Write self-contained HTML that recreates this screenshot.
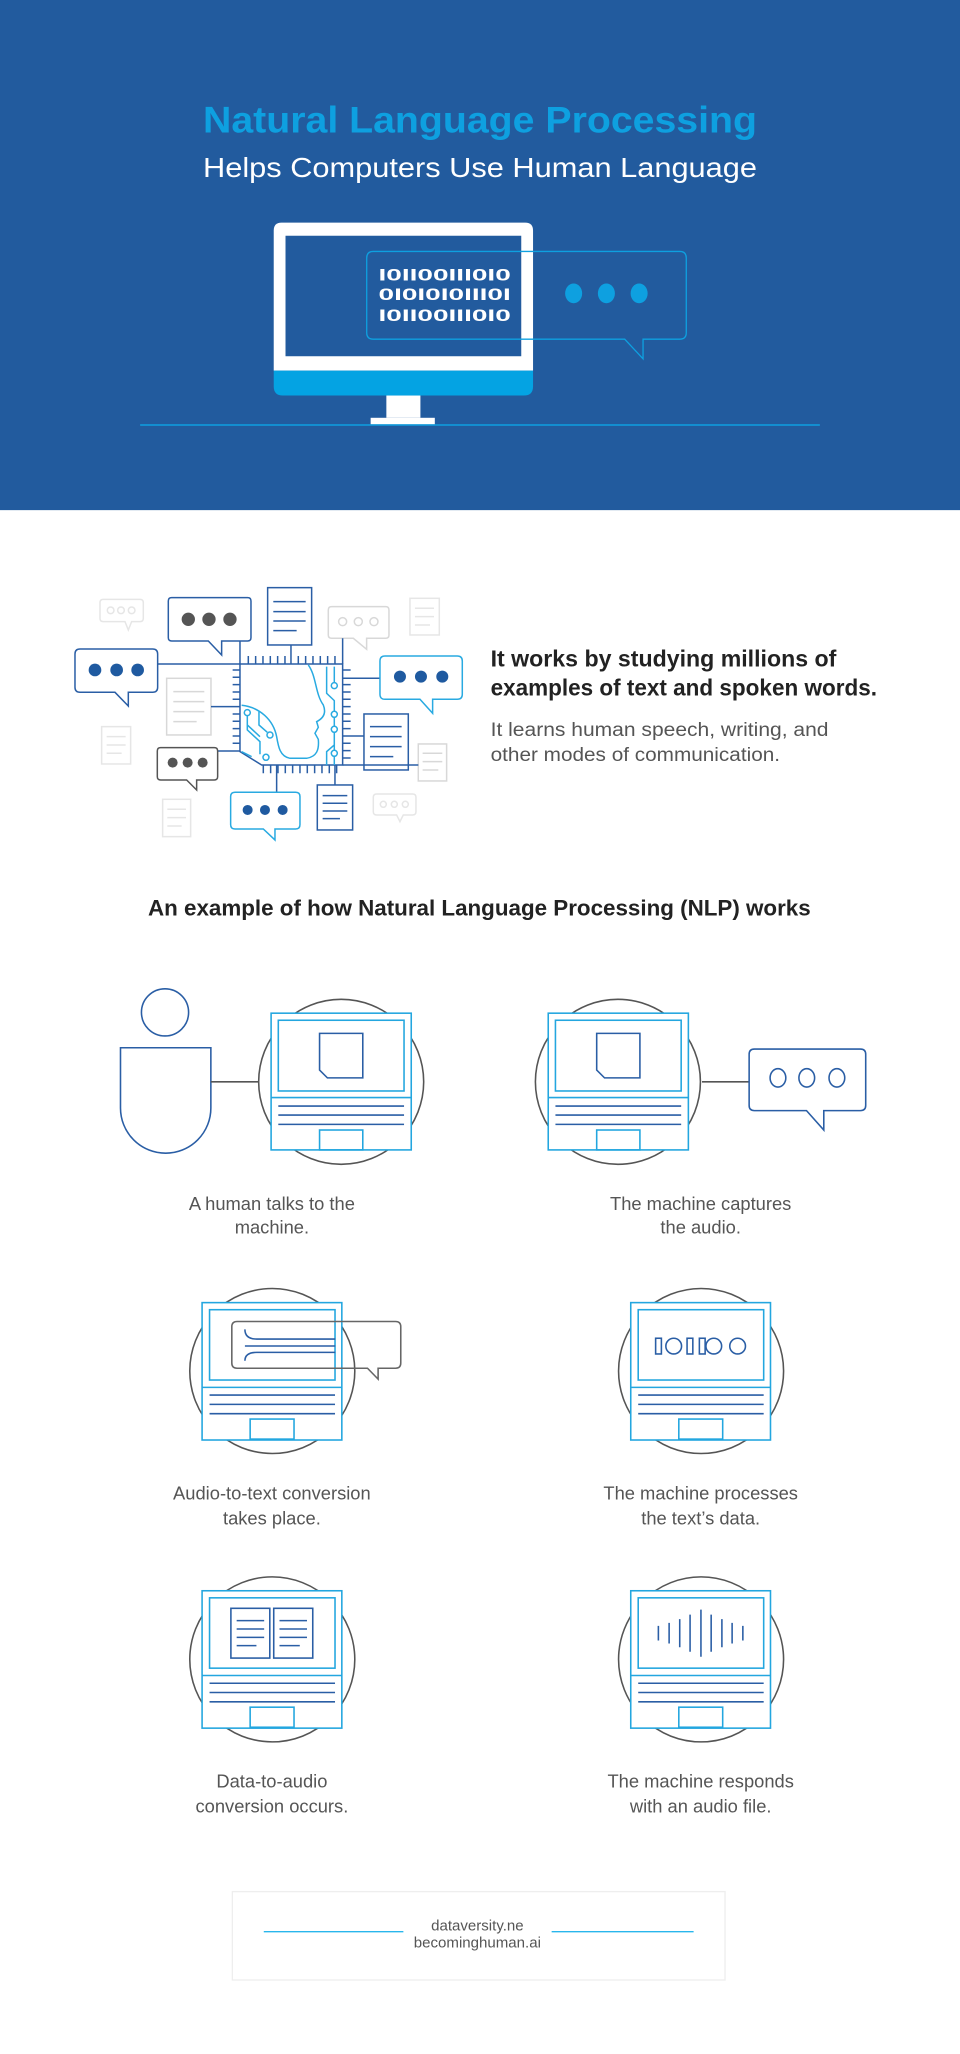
<!DOCTYPE html>
<html><head><meta charset="utf-8"><style>
html,body{margin:0;padding:0;background:#fff;}
svg{display:block;}
text{font-family:"Liberation Sans",sans-serif;}
</style></head><body>
<svg width="960" height="2054" viewBox="0 0 733 1568.3" preserveAspectRatio="none" xmlns="http://www.w3.org/2000/svg">
<rect x="0" y="0" width="733" height="389.5" fill="#225b9e"/>
<text x="155" y="101" font-size="28" font-weight="bold" fill="#0ea0e0" textLength="423" lengthAdjust="spacingAndGlyphs">Natural Language Processing</text>
<text x="155" y="135" font-size="21" fill="#fff" textLength="423" lengthAdjust="spacingAndGlyphs">Helps Computers Use Human Language</text>
<!-- monitor -->
<path d="M215,170 H401 Q407,170 407,176 V283 H209 V176 Q209,170 215,170 Z" fill="#fff"/>
<rect x="218" y="180" width="180" height="92" fill="#225b9e"/>
<path d="M209,283 H407 V295 Q407,302 400,302 H216 Q209,302 209,295 Z" fill="#04a3e3"/>
<rect x="295" y="302" width="26" height="17" fill="#fff"/>
<rect x="283" y="319" width="49" height="5" fill="#fff"/>
<line x1="107" y1="324.5" x2="626" y2="324.5" stroke="#0ea0e0" stroke-width="1.2"/>
<path d="M285,192 H519 Q524,192 524,197 V254 Q524,259 519,259 H491 V274 L477,259 H285 Q280,259 280,254 V197 Q280,192 285,192 Z" fill="none" stroke="#0ea0e0" stroke-width="1"/>
<g font-size="13" font-weight="bold" fill="#fff">
<text x="289" y="214" textLength="101" lengthAdjust="spacingAndGlyphs">I0II00III0I0</text>
<text x="289" y="229" textLength="101" lengthAdjust="spacingAndGlyphs">0I0I0I0III0I</text>
<text x="289" y="245" textLength="101" lengthAdjust="spacingAndGlyphs">I0II00III0I0</text>
</g>
<g fill="#0ea0e0"><ellipse cx="438" cy="224" rx="6.5" ry="7.5"/><ellipse cx="463" cy="224" rx="6.5" ry="7.5"/><ellipse cx="488" cy="224" rx="6.5" ry="7.5"/></g>

<!-- illustration -->
<g transform="translate(45.8,435.2) scale(0.2545)" fill="none" stroke-width="4.5">
 <!-- faint -->
 <g stroke="#e6e6e6">
  <path d="M130,88 H240 Q250,88 250,98 V145 Q250,155 240,155 H215 L205,180 L195,155 H130 Q120,155 120,145 V98 Q120,88 130,88 Z"/>
  <circle cx="152" cy="121" r="10"/><circle cx="183" cy="121" r="10"/><circle cx="215" cy="121" r="10"/>
  <rect x="1050" y="85" width="88" height="110"/>
  <path d="M1065,115H1122M1065,140H1122M1065,165H1110"/>
  <rect x="125" y="470" width="87" height="112"/>
  <path d="M140,500H197M140,525H197M140,550H185"/>
  <rect x="308" y="688" width="84" height="112"/>
  <path d="M322,718H378M322,743H378M322,768H365"/>
  <path d="M950,672 H1058 Q1068,672 1068,682 V725 Q1068,735 1058,735 H1030 L1020,755 L1010,735 H950 Q940,735 940,725 V682 Q940,672 950,672 Z"/>
  <circle cx="970" cy="703" r="9"/><circle cx="1003" cy="703" r="9"/><circle cx="1036" cy="703" r="9"/>
 </g>
 <g stroke="#d8d8d8">
  <path d="M815,110 H977 Q987,110 987,120 V195 Q987,205 977,205 H920 V238 L880,205 H815 Q805,205 805,195 V120 Q805,110 815,110 Z"/>
  <circle cx="848" cy="155" r="12"/><circle cx="895" cy="155" r="12"/><circle cx="942" cy="155" r="12"/>
  <rect x="320" y="325" width="133" height="170"/>
  <path d="M340,365H433M340,395H433M340,425H433M340,455H410"/>
  <rect x="1075" y="522" width="85" height="111"/>
  <path d="M1088,550H1147M1088,575H1147M1088,600H1135"/>
 </g>
 <!-- connectors -->
 <g stroke="#2a5ea5">
  <path d="M293,282H540M540,213V282M693,225V282M848,205V282M848,325H960M453,410H540M848,498H912M848,585H1075M473,543H540M650,585V667M825,585V645"/>
  <path d="M540,282 H848 V585 H605 L540,545 Z"/>
  <path d="M565,258V282M587,258V282M609,258V282M631,258V282M653,258V282M675,258V282M715,258V282M737,258V282M759,258V282M781,258V282M803,258V282M825,258V282"/>
  <path d="M610,585V610M632,585V610M654,585V610M676,585V610M698,585V610M720,585V610M742,585V610M764,585V610M786,585V610M808,585V610M830,585V610"/>
  <path d="M518,300H540M518,322H540M518,344H540M518,366H540M518,388H540M518,432H540M518,454H540M518,476H540M518,498H540M518,520H540"/>
  <path d="M848,300H872M848,344H872M848,366H872M848,388H872M848,410H872M848,432H872M848,454H872M848,476H872M848,520H872M848,542H872M848,564H872"/>
  <path d="M335,83 H563 Q573,83 573,93 V203 Q573,213 563,213 H485 V255 L445,213 H335 Q325,213 325,203 V93 Q325,83 335,83 Z"/>
  <path d="M60,237 H278 Q293,237 293,252 V352 Q293,367 278,367 H205 V408 L165,367 H60 Q45,367 45,352 V252 Q45,237 60,237 Z"/>
  <rect x="623" y="53" width="132" height="172"/>
  <path d="M640,95H737M640,125H737M640,153H737M640,182H710"/>
  <rect x="912" y="432" width="133" height="168"/>
  <path d="M930,470H1025M930,500H1025M930,530H1025M930,560H1000"/>
  <rect x="772" y="645" width="106" height="135"/>
  <path d="M788,677H862M788,700H862M788,723H862M788,746H840"/>
 </g>
 <path stroke="#555" d="M302,533 H463 Q473,533 473,543 V620 Q473,630 463,630 H410 V660 L380,630 H302 Q292,630 292,620 V543 Q292,533 302,533 Z"/>
 <g stroke="#29aae1">
  <path d="M975,258 H1192 Q1207,258 1207,273 V373 Q1207,388 1192,388 H1118 V430 L1080,388 H975 Q960,388 960,373 V273 Q960,258 975,258 Z"/>
  <path d="M525,667 H707 Q720,667 720,680 V764 Q720,777 707,777 H645 V810 L610,777 H525 Q512,777 512,764 V680 Q512,667 525,667 Z"/>
  <path d="M745,285 C770,320 765,370 790,405 C800,430 790,445 770,455 L775,472 L765,490 L775,508 C778,540 770,560 740,565 L690,565 C660,560 655,530 650,500 C640,450 600,412 545,406"/>
  <path d="M800,290V370L823,392V424M823,290V338M823,442V469M823,487V541M823,559V585M800,585V545L823,525"/>
  <path d="M562,437V480L600,515V553M562,465L600,500M597,425V465L622,487M545,545L575,560"/>
  <circle cx="823" cy="347" r="9"/><circle cx="823" cy="433" r="9"/><circle cx="823" cy="478" r="9"/><circle cx="823" cy="550" r="9"/>
  <circle cx="562" cy="428" r="9"/><circle cx="630" cy="495" r="9"/><circle cx="618" cy="562" r="9"/>
 </g>
 <g fill="#555"><circle cx="385" cy="148" r="20"/><circle cx="447" cy="148" r="20"/><circle cx="510" cy="148" r="20"/>
  <circle cx="338" cy="578" r="15"/><circle cx="383" cy="578" r="15"/><circle cx="428" cy="578" r="15"/></g>
 <g fill="#1f5aa0"><circle cx="105" cy="300" r="19"/><circle cx="170" cy="300" r="19"/><circle cx="233" cy="300" r="19"/>
  <circle cx="1020" cy="320" r="18"/><circle cx="1083" cy="320" r="18"/><circle cx="1147" cy="320" r="18"/>
  <circle cx="563" cy="720" r="15"/><circle cx="615" cy="720" r="15"/><circle cx="668" cy="720" r="15"/></g>
</g>

<text x="374.6" y="509" font-size="17.5" font-weight="bold" fill="#222" textLength="264" lengthAdjust="spacingAndGlyphs">It works by studying millions of</text>
<text x="374.6" y="531" font-size="17.5" font-weight="bold" fill="#222" textLength="295" lengthAdjust="spacingAndGlyphs">examples of text and spoken words.</text>
<text x="374.6" y="562" font-size="14.5" fill="#555" textLength="258" lengthAdjust="spacingAndGlyphs">It learns human speech, writing, and</text>
<text x="374.6" y="581" font-size="14.5" fill="#555" textLength="221" lengthAdjust="spacingAndGlyphs">other modes of communication.</text>

<text x="113" y="699" font-size="17" font-weight="bold" fill="#222" textLength="506" lengthAdjust="spacingAndGlyphs">An example of how Natural Language Processing (NLP) works</text>

<!-- step icons -->
<g fill="none" stroke-width="1.2">
 <!-- step1 -->
 <circle cx="126" cy="773" r="18" stroke="#2a5ea5"/>
 <path d="M92,800 H161 V846 A34.5,34.5 0 0 1 92,846 Z" stroke="#2a5ea5"/>
 <line x1="161" y1="826" x2="197" y2="826" stroke="#555"/>
 <circle cx="260.5" cy="826" r="63" stroke="#555"/>
 <g id="comp">
  <rect x="207" y="773.6" width="107" height="104.4" fill="#fff" stroke="#23a6df"/>
  <rect x="212.5" y="779" width="96" height="54" stroke="#23a6df"/>
  <line x1="207" y1="838" x2="314" y2="838" stroke="#23a6df"/>
  <path d="M212.5,844.5H308.5M212.5,851.4H308.5M212.5,858.5H308.5" stroke="#2a5ea5"/>
  <rect x="244" y="862.8" width="33" height="15.2" stroke="#23a6df"/>
 </g>
 <path d="M244,789 H277 V823 H250 L244,817 Z" stroke="#2a5ea5"/>
 <!-- step2 -->
 <circle cx="471.8" cy="826" r="63" stroke="#555"/>
 <line x1="536" y1="826" x2="572" y2="826" stroke="#555"/>
 <use href="#comp" transform="translate(211.6,0)"/>
 <path d="M455.6,789 H488.6 V823 H461.6 L455.6,817 Z" stroke="#2a5ea5"/>
 <path d="M576,801 H657 Q661,801 661,805 V844 Q661,848 657,848 H629 V862.8 L615.8,848 H576 Q572,848 572,844 V805 Q572,801 576,801 Z" stroke="#2a5ea5"/>
 <ellipse cx="594" cy="823" rx="6" ry="7" stroke="#2a5ea5"/><ellipse cx="616" cy="823" rx="6" ry="7" stroke="#2a5ea5"/><ellipse cx="639" cy="823" rx="6" ry="7" stroke="#2a5ea5"/>
 <!-- step3 -->
 <circle cx="207.9" cy="1046.8" r="63" stroke="#555"/>
 <g id="comp2">
  <rect x="154.3" y="994.6" width="106.7" height="104.9" fill="#fff" stroke="#23a6df"/>
  <rect x="160" y="1000" width="95.8" height="53.7" stroke="#23a6df"/>
  <line x1="154.3" y1="1059.3" x2="261" y2="1059.3" stroke="#23a6df"/>
  <path d="M160,1065.2H255.8M160,1072.3H255.8M160,1079.4H255.8" stroke="#2a5ea5"/>
  <rect x="191" y="1083.5" width="33.5" height="15.3" stroke="#23a6df"/>
 </g>
 <path d="M181,1009 H302 Q306,1009 306,1013 V1040.7 Q306,1044.7 302,1044.7 H288.7 V1053 L280.6,1044.7 H181 Q177,1044.7 177,1040.7 V1013 Q177,1009 181,1009 Z" stroke="#666"/>
 <path d="M187,1015 Q187,1022.4 196,1022.4 H256 M187,1027.7 H256 M187,1039 Q187,1032.6 196,1032.6 H256" stroke="#2a5ea5"/>
 <!-- step4 -->
 <circle cx="535.3" cy="1046.8" r="63" stroke="#555"/>
 <use href="#comp2" transform="translate(327.3,0)"/>
 <g stroke="#2a5ea5">
  <rect x="500.6" y="1021.8" width="4.4" height="12"/><circle cx="514.4" cy="1027.8" r="6"/>
  <rect x="524.6" y="1021.8" width="4.4" height="12"/><rect x="534" y="1021.8" width="4.4" height="12"/>
  <circle cx="545" cy="1027.8" r="6"/><circle cx="563.2" cy="1027.8" r="6"/>
 </g>
 <!-- step5 -->
 <circle cx="207.9" cy="1267" r="63" stroke="#555"/>
 <use href="#comp2" transform="translate(0,220)"/>
 <g stroke="#2a5ea5">
  <rect x="176.3" y="1228" width="29.7" height="38"/><rect x="209" y="1228" width="29.8" height="38"/>
  <path d="M180.7,1237.4H201.7M180.7,1243.8H201.7M180.7,1250.2H201.7M180.7,1256.5H195.8M213.4,1237.4H234.4M213.4,1243.8H234.4M213.4,1250.2H234.4M213.4,1256.5H228.9"/>
 </g>
 <!-- step6 -->
 <circle cx="535.3" cy="1267" r="63" stroke="#555"/>
 <use href="#comp2" transform="translate(327.3,220)"/>
 <path stroke="#2a5ea5" d="M502.7,1241.4V1252.6M510.9,1239.1V1254.9M519,1236.3V1257.7M526.9,1232.8V1261.2M535.2,1229V1265M543,1232.8V1261.2M551.2,1236.3V1257.7M559,1239.1V1254.9M567.2,1241.4V1252.6"/>
</g>

<g font-size="14" fill="#555" text-anchor="middle">
 <text x="207.6" y="924">A human talks to the</text>
 <text x="207.6" y="942">machine.</text>
 <text x="535" y="924">The machine captures</text>
 <text x="535" y="942">the audio.</text>
 <text x="207.6" y="1145">Audio-to-text conversion</text>
 <text x="207.6" y="1164">takes place.</text>
 <text x="535" y="1145">The machine processes</text>
 <text x="535" y="1164">the text’s data.</text>
 <text x="207.6" y="1365">Data-to-audio</text>
 <text x="207.6" y="1384">conversion occurs.</text>
 <text x="535" y="1365">The machine responds</text>
 <text x="535" y="1384">with an audio file.</text>
</g>

<!-- footer -->
<rect x="177.4" y="1444.3" width="376.2" height="67.5" fill="none" stroke="#eee" stroke-width="1"/>
<line x1="201.4" y1="1474.9" x2="308" y2="1474.9" stroke="#29b6ec" stroke-width="1"/>
<line x1="421.2" y1="1474.9" x2="529.6" y2="1474.9" stroke="#29b6ec" stroke-width="1"/>
<text x="364.5" y="1474" font-size="11.5" fill="#555" text-anchor="middle">dataversity.ne</text>
<text x="364.5" y="1487" font-size="11.5" fill="#555" text-anchor="middle">becominghuman.ai</text>
</svg>
</body></html>
